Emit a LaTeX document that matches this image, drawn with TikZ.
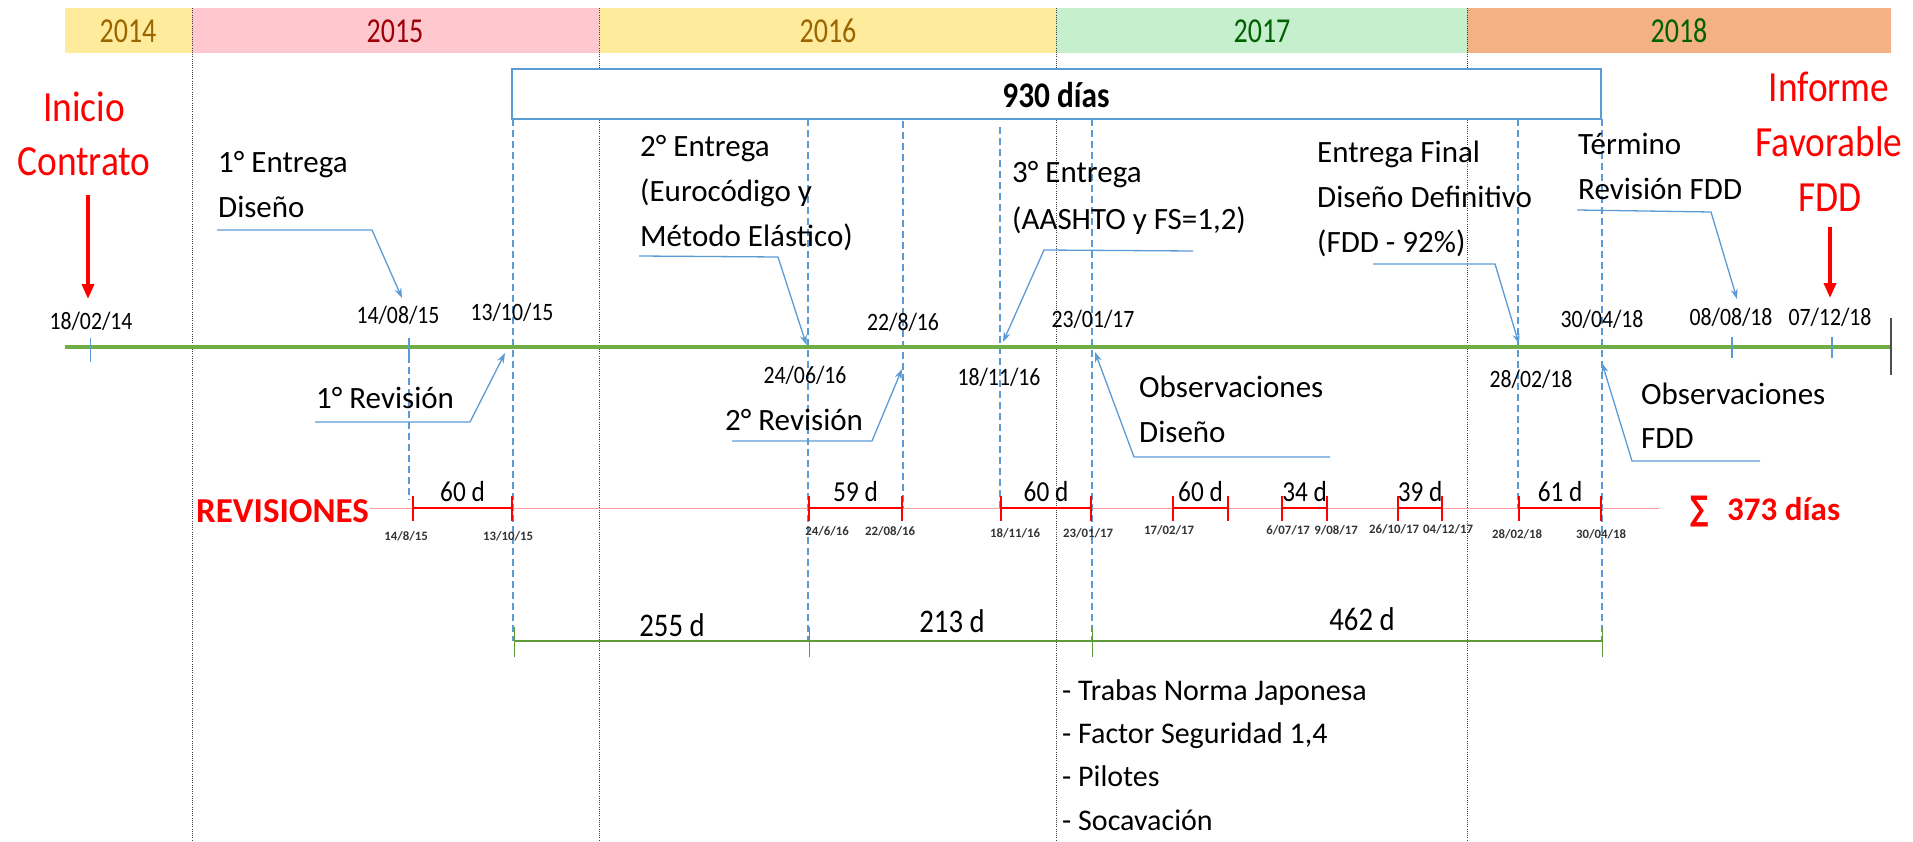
\documentclass[tikz,border=0pt]{standalone}
\usepackage{fontspec}
\setmainfont{Carlito}
\newfontfamily\condr{Carlito}[FakeStretch=0.87]
\newfontfamily\condg{Carlito}[FakeStretch=0.8]
\newfontfamily\sumf{DejaVu Sans}[FakeStretch=0.75]
\usetikzlibrary{arrows.meta}
\newcommand\setfs[2]{\fontsize{#1}{#2}\selectfont}
\definecolor{calblue}{HTML}{5B9BD5}
\definecolor{tlgreen}{HTML}{70AD47}
\definecolor{btgreen}{HTML}{5F9A3C}
\definecolor{pinkline}{HTML}{FFA0A0}
\definecolor{yel}{HTML}{FFEB9C}
\definecolor{yeltxt}{HTML}{9C6500}
\definecolor{pnk}{HTML}{FFC7CE}
\definecolor{pnktxt}{HTML}{9C0006}
\definecolor{grn}{HTML}{C6EFCE}
\definecolor{grntxt}{HTML}{006100}
\definecolor{orng}{HTML}{F4B183}
\tikzset{
  yearlbl/.style={inner sep=0pt, anchor=base, font=\condg\setfs{35}{40}},
  lbl/.style={inner sep=0pt, anchor=base west, font=\setfs{31}{38}, text=black},
  redlbl/.style={inner sep=0pt, anchor=base, font=\condr\setfs{43}{50}, text=red},
  tdate/.style={inner sep=0pt, anchor=base, font=\condr\setfs{25}{30}, text=black},
  sdate/.style={inner sep=0pt, anchor=base, font=\bfseries\setfs{12.8}{16}, text=black!80},
  ivlbl/.style={inner sep=0pt, anchor=base, font=\condr\setfs{29}{32}, text=black},
  durlbl/.style={inner sep=0pt, anchor=base, font=\condr\setfs{33}{36}, text=black},
  ydot/.style={draw=black!75, line width=0.9pt, dash pattern=on 1pt off 1.2pt},
  vdash/.style={draw=calblue, line width=1.1pt, dash pattern=on 7pt off 4pt},
  callout/.style={draw=calblue, line width=1.3pt, -{Stealth[length=10pt,width=7pt]}},
  redarrow/.style={draw=red, line width=3.5pt, -{Triangle[length=15pt,width=12pt]}},
  btick/.style={draw=calblue, line width=1.1pt},
  ival/.style={draw=red, line width=2.6pt, {Bar[width=25pt,line width=1.8pt]}-{Bar[width=25pt,line width=1.8pt]}},
  gtick/.style={draw=btgreen, line width=1pt}
}
\begin{document}
\begin{tikzpicture}[x=1pt,y=-1pt]
\useasboundingbox (0,0) rectangle (1913,842);
% year band
\fill[yel] (64.5,8) rectangle (192,53);
\fill[pnk] (192,8) rectangle (599,53);
\fill[yel] (599,8) rectangle (1056,53);
\fill[grn] (1056,8) rectangle (1467,53);
\fill[orng] (1467,8) rectangle (1891,53);
\node[yearlbl, text=yeltxt] (yr14) at (128,43) {2014};
\node[yearlbl, text=pnktxt] (yr15) at (395,43) {2015};
\node[yearlbl, text=yeltxt] (yr16) at (828,43) {2016};
\node[yearlbl, text=grntxt] (yr17) at (1262,43) {2017};
\node[yearlbl, text=grntxt] (yr18) at (1679,43) {2018};
% year separators
\draw[ydot] (192,8) -- (192,842);
\draw[ydot] (599,8) -- (599,842);
\draw[ydot] (1056,8) -- (1056,842);
\draw[ydot] (1467,8) -- (1467,842);
% 930 box
\filldraw[draw=calblue, fill=white, line width=1.3pt] (512,69) rectangle (1601,119);
\node[inner sep=0pt, anchor=base, font=\condr\bfseries\setfs{36}{40}] (d930) at (1056,108) {930 días};
% dashed date lines
\draw[vdash] (409,356) -- (409,500);
\draw[vdash] (513,119) -- (513,641);
\draw[vdash] (808,119) -- (808,641);
\draw[vdash] (903,121) -- (903,508);
\draw[vdash] (1000,127) -- (1000,508);
\draw[vdash] (1092,119) -- (1092,641);
\draw[vdash] (1518,119) -- (1518,508);
\draw[vdash] (1602,119) -- (1602,641);
% main timeline
\coordinate (tlA) at (64.5,347);
\coordinate (tlB) at (1891,347);
\draw[draw=tlgreen, line width=4.5pt] (tlA) -- (tlB);
\draw[draw=black!70, line width=2pt] (1891,318) -- (1891,375);
\draw[btick] (90.6,338) -- (90.6,362);
\draw[btick] (409,338) -- (409,358);
\draw[btick] (1732,337) -- (1732,358);
\draw[btick] (1832,337) -- (1832,358);
% red start / end labels
\node[redlbl] (ini1) at (84,122) {Inicio};
\node[redlbl] (ini2) at (84,176) {Contrato};
\coordinate (iniA) at (88,195);
\coordinate (iniB) at (88,299);
\draw[redarrow] (iniA) -- (iniB);
\node[redlbl] (inf1) at (1829,102) {Informe};
\node[redlbl] (inf2) at (1829,157) {Favorable};
\node[redlbl] (inf3) at (1830,212) {FDD};
\coordinate (infA) at (1830,227);
\coordinate (infB) at (1830,298);
\draw[redarrow] (infA) -- (infB);
% timeline dates
\node[tdate] (dt1) at (91,329) {18/02/14};
\node[tdate] (dt2) at (398,323) {14/08/15};
\node[tdate] (dt3) at (512,320) {13/10/15};
\node[tdate] (dt4) at (903,330) {22/8/16};
\node[tdate] (dt5) at (1093,327) {23/01/17};
\node[tdate] (dt6) at (1602,327) {30/04/18};
\node[tdate] (dt7) at (1731,325) {08/08/18};
\node[tdate] (dt8) at (1830,325) {07/12/18};
\node[tdate] (db1) at (805,383) {24/06/16};
\node[tdate] (db2) at (999,385) {18/11/16};
\node[tdate] (db3) at (1531,387) {28/02/18};
% labels
\node[lbl] (e1a) at (218,173) {1° Entrega};
\node[lbl] (e1b) at (218,218) {Diseño};
\node[lbl] (r1) at (316,408) {1° Revisión};
\node[lbl] (e2a) at (640,157) {2° Entrega};
\node[lbl] (e2b) at (640,202) {(Eurocódigo y};
\node[lbl] (e2c) at (640,247) {Método Elástico)};
\node[lbl] (r2) at (725,430) {2° Revisión};
\node[lbl] (e3a) at (1012,183) {3° Entrega};
\node[lbl] (e3b) at (1012,230) {(AASHTO y FS=1,2)};
\node[lbl] (od1) at (1139,397) {Observaciones};
\node[lbl] (od2) at (1139,442) {Diseño};
\node[lbl] (ef1) at (1317,163) {Entrega Final};
\node[lbl] (ef2) at (1317,208) {Diseño Definitivo};
\node[lbl] (ef3) at (1317,253) {(FDD - 92\%)};
\node[lbl] (tr1) at (1578,155) {Término};
\node[lbl] (tr2) at (1578,200) {Revisión FDD};
\node[lbl] (of1) at (1641,404) {Observaciones};
\node[lbl] (of2) at (1641,448) {FDD};
% callouts
\coordinate (c1a) at (217,230); \coordinate (c1b) at (372,230); \coordinate (c1t) at (402,298);
\draw[callout] (c1a) -- (c1b) -- (c1t);
\coordinate (c2a) at (315,422); \coordinate (c2b) at (470,422); \coordinate (c2t) at (505,353);
\draw[callout] (c2a) -- (c2b) -- (c2t);
\coordinate (c3a) at (639,256); \coordinate (c3b) at (778,257); \coordinate (c3t) at (806.5,345);
\draw[callout] (c3a) -- (c3b) -- (c3t);
\coordinate (c4a) at (732,441); \coordinate (c4b) at (872,441); \coordinate (c4t) at (902,369);
\draw[callout] (c4a) -- (c4b) -- (c4t);
\coordinate (c5a) at (1193,251); \coordinate (c5b) at (1044,250); \coordinate (c5t) at (1003,342);
\draw[callout] (c5a) -- (c5b) -- (c5t);
\coordinate (c6a) at (1330,457); \coordinate (c6b) at (1134,457); \coordinate (c6t) at (1095,352);
\draw[callout] (c6a) -- (c6b) -- (c6t);
\coordinate (c7a) at (1373,264); \coordinate (c7b) at (1495,264); \coordinate (c7t) at (1519,344);
\draw[callout] (c7a) -- (c7b) -- (c7t);
\coordinate (c8a) at (1577,210); \coordinate (c8b) at (1711,212); \coordinate (c8t) at (1737,299);
\draw[callout] (c8a) -- (c8b) -- (c8t);
\coordinate (c9a) at (1760,461); \coordinate (c9b) at (1632,461); \coordinate (c9t) at (1602,363);
\draw[callout] (c9a) -- (c9b) -- (c9t);
% revisiones row
\node[inner sep=0pt, anchor=base west, font=\bfseries\setfs{35}{40}, text=red] (rev) at (196,522) {REVISIONES};
\coordinate (rvA) at (370,508);
\coordinate (rvB) at (1659,508);
\draw[draw=pinkline, line width=1pt] (rvA) -- (rvB);
\foreach \a/\b/\lab [count=\i] in {412/513/60 d, 808/903/59 d, 1000/1092/60 d, 1172/1229/60 d, 1281/1328/34 d, 1397/1443/39 d, 1518/1602/61 d}{
  \coordinate (iv\i a) at (\a,508);
  \coordinate (iv\i b) at (\b,508);
  \draw[ival] (iv\i a) -- (iv\i b);
  \node[ivlbl] (ivl\i) at ({(\a+\b)/2},501) {\lab};
}
\node[sdate] (s1) at (406,540) {14/8/15};
\node[sdate] (s2) at (508,540) {13/10/15};
\node[sdate] (s3) at (827,535) {24/6/16};
\node[sdate] (s4) at (890,535) {22/08/16};
\node[sdate] (s5) at (1015,537) {18/11/16};
\node[sdate] (s6) at (1088,537) {23/01/17};
\node[sdate] (s7) at (1169,534) {17/02/17};
\node[sdate] (s8) at (1288,534) {6/07/17};
\node[sdate] (s9) at (1336,534) {9/08/17};
\node[sdate] (s10) at (1394,533) {26/10/17};
\node[sdate] (s11) at (1448,533) {04/12/17};
\node[sdate] (s12) at (1517,538) {28/02/18};
\node[sdate] (s13) at (1601,538) {30/04/18};
\node[inner sep=0pt, anchor=base west, font=\sumf\bfseries\setfs{34}{40}, text=red] (sig) at (1690,520) {∑};
\node[inner sep=0pt, anchor=base west, font=\bfseries\setfs{33}{40}, text=red] (tot) at (1727,520) {373 días};
% bottom durations row
\coordinate (bA) at (514,641);
\coordinate (bB) at (809,641);
\coordinate (bC) at (1092,641);
\coordinate (bD) at (1602,641);
\draw[draw=btgreen, line width=2.2pt] (bA) -- (bB) -- (bC) -- (bD);
\foreach \x in {514,809,1092,1602}{\draw[gtick] (\x,627) -- (\x,657);}
\node[durlbl] (du1) at (672,636) {255 d};
\node[durlbl] (du2) at (952,632) {213 d};
\node[durlbl] (du3) at (1362,630) {462 d};
% observations list
\node[lbl, font=\setfs{30}{36}] (ls1) at (1062,700) {- Trabas Norma Japonesa};
\node[lbl, font=\setfs{30}{36}] (ls2) at (1062,743) {- Factor Seguridad 1,4};
\node[lbl, font=\setfs{30}{36}] (ls3) at (1062,786) {- Pilotes};
\node[lbl, font=\setfs{30}{36}] (ls4) at (1062,830) {- Socavación};
\end{tikzpicture}
\end{document}
